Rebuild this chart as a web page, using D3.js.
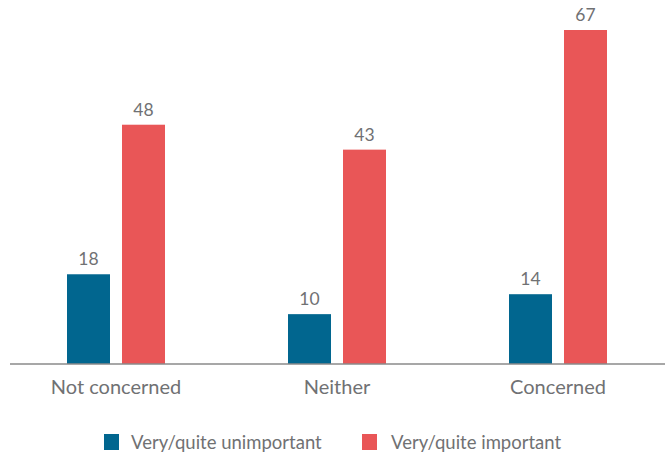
<!DOCTYPE html>
<html>
<head>
<meta charset="utf-8">
<script src="https://cdn.jsdelivr.net/npm/d3@7"></script>
<style>
  body { margin: 0; background: #fff; }
  text { font-family: Lato, "Open Sans", sans-serif; fill: #707173; }
</style>
</head>
<body>
<div id="chart"></div>
<script>
// data
const categories = ["Not concerned", "Neither", "Concerned"];
const seriesNames = ["Very/quite unimportant", "Very/quite important"];
const unimportant = [18, 10, 14];
const important = [48, 43, 67];
const colors = ["#01668f", "#e95657"];

const W = 668, H = 460;
const svg = d3.select("#chart").append("svg")
    .attr("width", W).attr("height", H);

const baseY = 364;

const x = d3.scaleBand()
    .domain(categories)
    .range([5.5, 668.5])
    .padding(0);

const inner = d3.scaleBand()
    .domain(seriesNames)
    .range([x.bandwidth() / 2 - 49, x.bandwidth() / 2 + 49])
    .paddingInner(12 / 55);

const y = d3.scaleLinear()
    .domain([0, 67])
    .range([baseY, 30]);

const rows = categories.map(function(c, i) {
    return { cat: c, values: [unimportant[i], important[i]] };
});

const groups = svg.selectAll("g.grp")
    .data(rows)
    .join("g")
    .attr("class", "grp")
    .attr("transform", function(d) { return "translate(" + x(d.cat) + ",0)"; });

const bars = groups.selectAll("g.bar")
    .data(function(d) {
        return d.values.map(function(v, j) { return { s: seriesNames[j], v: v, j: j }; });
    })
    .join("g")
    .attr("class", "bar");

bars.append("rect")
    .attr("x", function(d) { return inner(d.s); })
    .attr("y", function(d) { return y(d.v); })
    .attr("width", inner.bandwidth())
    .attr("height", function(d) { return baseY - y(d.v); })
    .attr("fill", function(d) { return colors[d.j]; });

bars.append("text")
    .attr("x", function(d) { return inner(d.s) + inner.bandwidth() / 2; })
    .attr("y", function(d) { return y(d.v) - 9; })
    .attr("text-anchor", "middle")
    .style("font-size", "17.5px")
    .text(function(d) { return d.v; });

// baseline
svg.append("line")
    .attr("x1", 10).attr("x2", 665)
    .attr("y1", baseY).attr("y2", baseY)
    .attr("stroke", "#8a8a8a")
    .attr("stroke-width", 1.5);

// category labels
const xAxis = svg.append("g")
    .attr("transform", "translate(0," + baseY + ")")
    .call(d3.axisBottom(x).tickSize(0).tickPadding(0));
xAxis.select(".domain").remove();
xAxis.selectAll("text")
    .attr("dy", null)
    .attr("y", 30)
    .style("font-size", "20px")
    .style("font-family", "Lato, sans-serif")
    .attr("fill", "#707173");

// legend
const legendX = [104, 362];
const legend = svg.selectAll("g.leg")
    .data(seriesNames)
    .join("g")
    .attr("class", "leg")
    .attr("transform", function(d, i) { return "translate(" + legendX[i] + ",434)"; });

legend.append("rect")
    .attr("width", 15).attr("height", 16)
    .attr("fill", function(d, i) { return colors[i]; });

legend.append("text")
    .attr("x", function(d, i) { return i === 0 ? 27 : 29; })
    .attr("y", 15)
    .style("font-size", "18.5px")
    .text(function(d) { return d; });
</script>
</body>
</html>
